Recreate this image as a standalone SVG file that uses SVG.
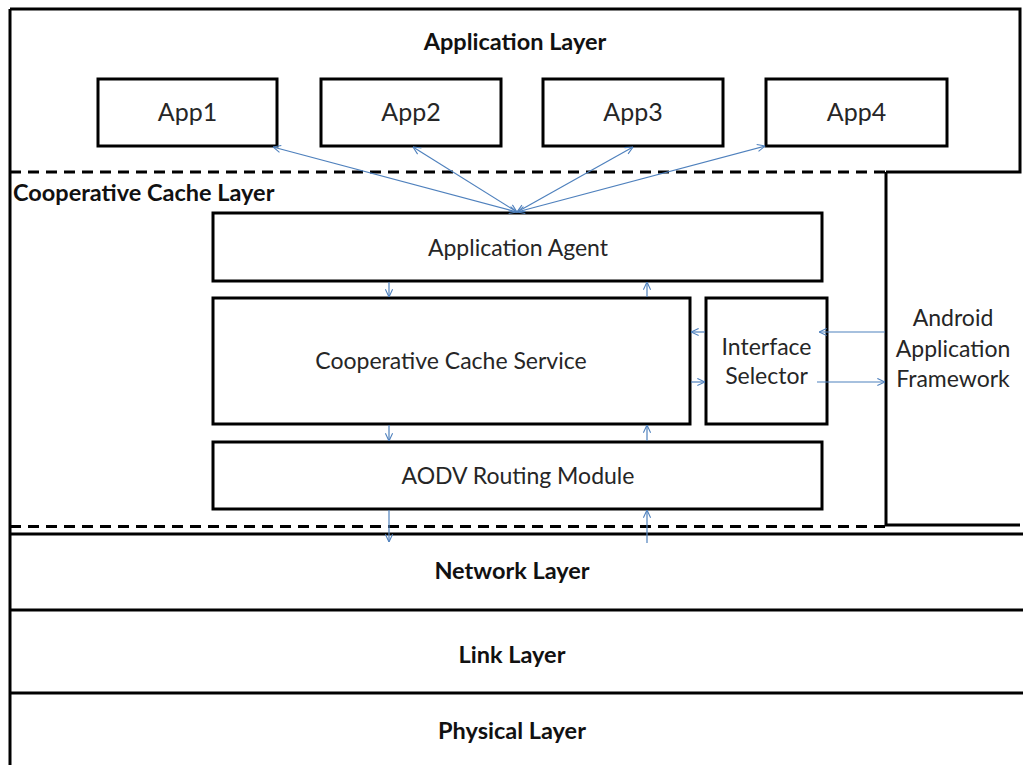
<svg xmlns="http://www.w3.org/2000/svg" width="1023" height="765" viewBox="0 0 1023 765">
  <style>
    .box { fill: #ffffff; stroke: #000000; stroke-width: 3; }
    .rule { fill: none; stroke: #000000; stroke-width: 3; }
    .dash { fill: none; stroke: #000000; stroke-width: 3; stroke-dasharray: 11 7; }
    .lbl { font-family: Lato, "Liberation Sans", sans-serif; font-size: 23px; fill: #262626; text-anchor: middle; }
    .app { font-size: 25px; }
    .head { font-family: Lato, "Liberation Sans", sans-serif; font-size: 23.5px; font-weight: bold; fill: #111111; text-anchor: middle; }
    .link { fill: none; stroke: #4f81bd; stroke-width: 1.2; }
    .both { marker-start: url(#tipStart); marker-end: url(#tip); }
    .one { marker-end: url(#tip); }
  </style>
  <defs>
    <marker id="tip" viewBox="0 0 10 10" refX="9.5" refY="5" markerWidth="9" markerHeight="9" markerUnits="userSpaceOnUse" orient="auto">
      <path d="M1 1 L9.5 5 L1 9" fill="none" stroke="#4f81bd" stroke-width="1.2"/>
    </marker>
    <marker id="tipStart" viewBox="0 0 10 10" refX="0.5" refY="5" markerWidth="9" markerHeight="9" markerUnits="userSpaceOnUse" orient="auto">
      <path d="M9 1 L0.5 5 L9 9" fill="none" stroke="#4f81bd" stroke-width="1.2"/>
    </marker>
  </defs>

  <rect width="1023" height="765" fill="#ffffff"/>

  <!-- layer frame -->
  <g id="frame">
    <path class="rule" d="M10 9 H1020 V172 H886"/>
    <path class="rule" d="M10 9 V765"/>
    <path class="dash" d="M10 526.5 H886"/>
    <path class="dash" d="M10 172 H886"/>
    <path class="rule" d="M886 172 V525 H1020"/>
    <path class="rule" d="M10 534 H1023"/>
    <path class="rule" d="M10 610 H1023"/>
    <path class="rule" d="M10 693 H1023"/>
  </g>

  <g id="application-layer">
    <text class="head" x="515" y="50">Application Layer</text>
  </g>
  <g id="app1"><rect class="box" x="98" y="79" width="179" height="67"/><text class="lbl app" x="187.5" y="121">App1</text></g>
  <g id="app2"><rect class="box" x="321" y="79" width="180" height="67"/><text class="lbl app" x="411" y="121">App2</text></g>
  <g id="app3"><rect class="box" x="543" y="79" width="180" height="67"/><text class="lbl app" x="633" y="121">App3</text></g>
  <g id="app4"><rect class="box" x="766" y="79" width="181" height="67"/><text class="lbl app" x="856.5" y="121">App4</text></g>

  <g id="cooperative-cache-layer">
    <text class="head" x="13" y="201" style="text-anchor:start">Cooperative Cache Layer</text>
  </g>

  <g id="application-agent">
    <rect class="box" x="213" y="213" width="609" height="68"/>
    <text class="lbl" x="518" y="256">Application Agent</text>
  </g>
  <g id="cooperative-cache-service">
    <rect class="box" x="213" y="298" width="477" height="126"/>
    <text class="lbl" x="451" y="369">Cooperative Cache Service</text>
  </g>
  <g id="interface-selector">
    <rect class="box" x="706" y="298" width="121" height="126"/>
    <text class="lbl" x="766.5" y="355">Interface</text>
    <text class="lbl" x="766.5" y="384">Selector</text>
  </g>
  <g id="aodv-routing-module">
    <rect class="box" x="213" y="442" width="609" height="67"/>
    <text class="lbl" x="518" y="484">AODV Routing Module</text>
  </g>
  <g id="android-application-framework">
    <text class="lbl" x="953" y="326">Android</text>
    <text class="lbl" x="953" y="357">Application</text>
    <text class="lbl" x="953" y="387">Framework</text>
  </g>

  <g id="network-layer"><text class="head" x="512" y="579">Network Layer</text></g>
  <g id="link-layer"><text class="head" x="512" y="663">Link Layer</text></g>
  <g id="physical-layer"><text class="head" x="512" y="739">Physical Layer</text></g>

  <!-- connectors -->
  <g id="connectors">
    <line class="link both" x1="273" y1="147" x2="517" y2="212"/>
    <line class="link both" x1="413" y1="147" x2="517" y2="212"/>
    <line class="link both" x1="633" y1="147" x2="517" y2="212"/>
    <line class="link both" x1="765" y1="146" x2="517" y2="212"/>

    <line class="link one" x1="389" y1="282" x2="389" y2="297"/>
    <line class="link one" x1="647" y1="297" x2="647" y2="282"/>
    <line class="link one" x1="389" y1="425" x2="389" y2="441"/>
    <line class="link one" x1="647" y1="441" x2="647" y2="425"/>
    <line class="link one" x1="389" y1="510" x2="389" y2="542"/>
    <line class="link one" x1="647" y1="543" x2="647" y2="510"/>

    <line class="link one" x1="705" y1="332" x2="691" y2="332"/>
    <line class="link one" x1="691" y1="382" x2="705" y2="382"/>
    <line class="link one" x1="885" y1="332" x2="819" y2="332"/>
    <line class="link one" x1="817" y1="382" x2="885" y2="382"/>
  </g>
</svg>
